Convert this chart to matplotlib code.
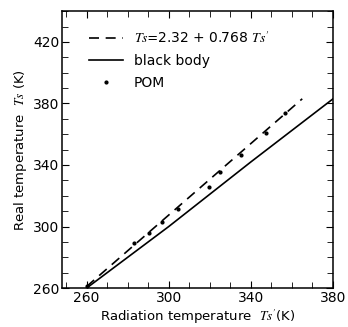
import matplotlib
matplotlib.use('Agg')
import matplotlib.pyplot as plt
from matplotlib.ticker import MultipleLocator

plt.rcParams['font.family'] = ['DejaVu Sans']
plt.rcParams['mathtext.fontset'] = 'stix'

# 回归直线 (虚线) 的两个端点
fit_x = [260, 365]
fit_y = [261, 383]

# 黑体标定曲线
bb_x = [260, 300, 340, 380]
bb_y = [260, 300, 342, 383]

# POM 实测点
pom_x = [260.4, 283.2, 290.5, 296.5, 304.3, 319.5, 325.1, 335.4, 347.3, 356.6]
pom_y = [261.3, 289.0, 295.5, 302.7, 311.1, 325.8, 335.6, 346.4, 360.9, 373.9]

fig = plt.figure(figsize=(3.48, 3.27), dpi=100)
ax = fig.add_axes([0.178, 0.119, 0.779, 0.847])

ax.plot(fit_x, fit_y, color='black', lw=1.2, ls=(0, (6, 4)),
        label=r"$Ts\!=\!$2.32 + 0.768 $Ts'$")
ax.plot(bb_x, bb_y, color='black', lw=1.2, label='black body')
ax.plot(pom_x, pom_y, ls='none', marker='o', ms=2, color='black', label='POM')

ax.set_xlim(248, 380)
ax.set_ylim(260, 440)
ax.xaxis.set_minor_locator(MultipleLocator(10))
ax.yaxis.set_minor_locator(MultipleLocator(10))
ax.set_xticks([260, 300, 340, 380])
ax.set_yticks([260, 300, 340, 380, 420])
ax.tick_params(which='both', direction='in', top=True, right=True, labelsize=10, pad=2)
ax.tick_params(which='major', length=5)
ax.tick_params(which='minor', length=4)
for s in ax.spines.values():
    s.set_linewidth(1.1)

ax.set_xlabel(r"Radiation temperature  $Ts'$(K)", fontsize=9.5, labelpad=2)
ax.set_ylabel(r"Real temperature  $Ts$ (K)", fontsize=9.5, labelpad=3)

ax.legend(loc='upper left', frameon=False, fontsize=10, handlelength=2.4,
          labelspacing=0.55, borderaxespad=0.6, bbox_to_anchor=(0.05, 0.98))

plt.savefig('out.png', dpi=100)
